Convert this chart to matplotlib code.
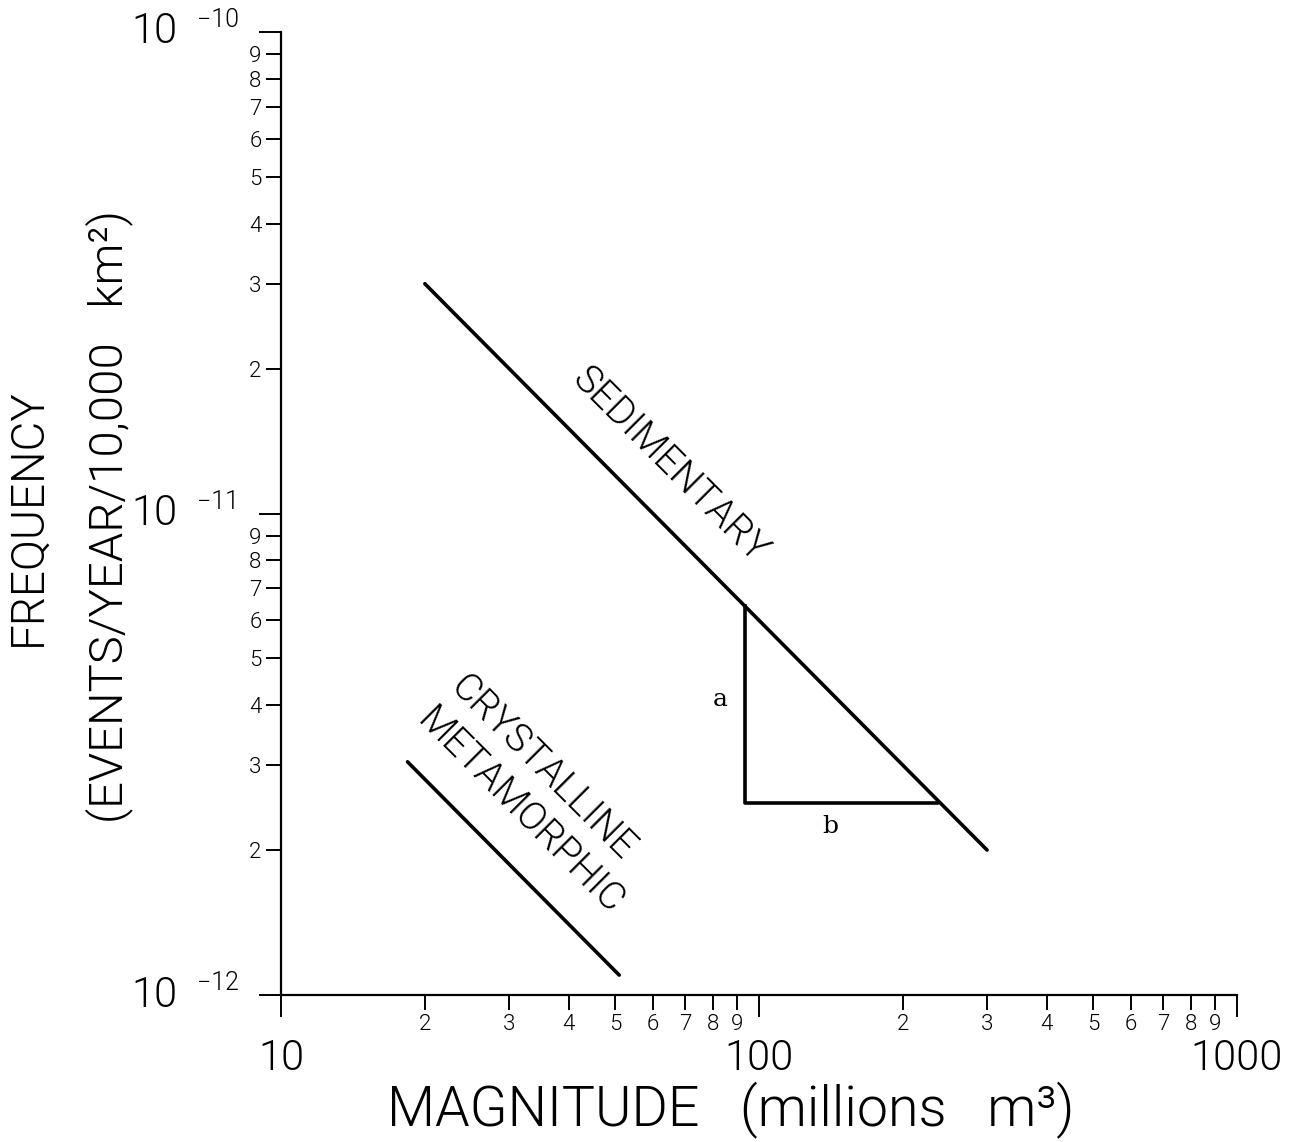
import matplotlib
matplotlib.use("Agg")
import matplotlib.pyplot as plt
import matplotlib.transforms as mtransforms
from matplotlib.ticker import FixedLocator, FixedFormatter, NullFormatter

# data
sed_x = [20, 300]
sed_y = [3.0e-11, 2.0e-12]
cry_x = [18.4, 51]
cry_y = [3.05e-12, 1.1e-12]
tri_x = [93.5, 93.5, 236]
tri_y = [6.42e-12, 2.5e-12, 2.5e-12]

x_major = [10, 100, 1000]
x_major_labels = ["10", "100", "1000"]
y_major = [1e-12, 1e-11, 1e-10]
y_major_exp = ["\u221212", "\u221211", "\u221210"]
minor_digits = [2, 3, 4, 5, 6, 7, 8, 9]

plt.rcParams["font.family"] = ["Roboto", "DejaVu Sans"]
plt.rcParams["font.weight"] = 300

fig = plt.figure(figsize=(13.11, 11.42), dpi=100)
ax = fig.add_axes([0.2143, 0.1287, 0.7293, 0.8433])
ax.set_xscale("log")
ax.set_yscale("log")
ax.set_xlim(10, 1000)
ax.set_ylim(1e-12, 1e-10)

lw = 2.6
ax.plot(sed_x, sed_y, color="black", lw=lw, solid_capstyle="round")
ax.plot(cry_x, cry_y, color="black", lw=lw, solid_capstyle="round")
ax.plot(tri_x, tri_y, color="black", lw=lw)

for s in ["top", "right"]:
    ax.spines[s].set_visible(False)
for s in ["left", "bottom"]:
    ax.spines[s].set_linewidth(1.6)

# ticks
ax.xaxis.set_major_locator(FixedLocator(x_major))
ax.yaxis.set_major_locator(FixedLocator(y_major))
ax.xaxis.set_major_formatter(NullFormatter())
ax.yaxis.set_major_formatter(NullFormatter())
xm = [d * 10 ** e for e in (1, 2) for d in minor_digits]
ym = [d * 10.0 ** e for e in (-12, -11) for d in minor_digits]
ax.xaxis.set_minor_locator(FixedLocator(xm))
ax.yaxis.set_minor_locator(FixedLocator(ym))
ax.xaxis.set_minor_formatter(FixedFormatter([str(d) for d in minor_digits] * 2))
ax.yaxis.set_minor_formatter(FixedFormatter([str(d) for d in minor_digits] * 2))
ax.tick_params(which="major", direction="out", length=16, width=1.4)
ax.tick_params(which="minor", direction="out", length=11, width=1.4, labelsize=16, pad=3)

# major tick labels
ytr = mtransforms.blended_transform_factory(ax.transAxes, ax.transData)
up = mtransforms.ScaledTranslation(0, 0.12, fig.dpi_scale_trans)
for v, e in zip(y_major, y_major_exp):
    ax.text(-0.108, v, "10", transform=ytr, ha="right", va="center", fontsize=30)
    ax.text(-0.088, v, e, transform=ytr + up, ha="left", va="center", fontsize=18)
xtr = mtransforms.blended_transform_factory(ax.transData, ax.transAxes)
for v, t in zip(x_major, x_major_labels):
    ax.text(v, -0.066, t, transform=xtr, ha="center", va="center", fontsize=30)

# annotations
ax.text(65.2, 1.26e-11, "SEDIMENTARY", rotation=-45, rotation_mode="anchor",
        ha="center", va="center", fontsize=28)
ax.text(35.3, 2.96e-12, "CRYSTALLINE", rotation=-45, rotation_mode="anchor",
        ha="center", va="center", fontsize=28)
ax.text(31.6, 2.4e-12, "METAMORPHIC", rotation=-45, rotation_mode="anchor",
        ha="center", va="center", fontsize=28)
ax.text(82.8, 4.1e-12, "a", ha="center", va="center", fontsize=18, family="DejaVu Serif")
ax.text(141, 2.24e-12, "b", ha="center", va="center", fontsize=18, family="DejaVu Serif")

# axis titles
fig.text(731 / 1311, 1 - 1110 / 1142, "MAGNITUDE   (millions   m\u00b3)",
         ha="center", va="center", fontsize=40)
fig.text(28 / 1311, 1 - 517 / 1142, "FREQUENCY", rotation=90,
         ha="center", va="center", fontsize=33)
fig.text(109 / 1311, 1 - 517 / 1142, "(EVENTS/YEAR/10,000   km\u00b2)", rotation=90,
         ha="center", va="center", fontsize=34)

fig.savefig("out.png", dpi=100, facecolor="white")
